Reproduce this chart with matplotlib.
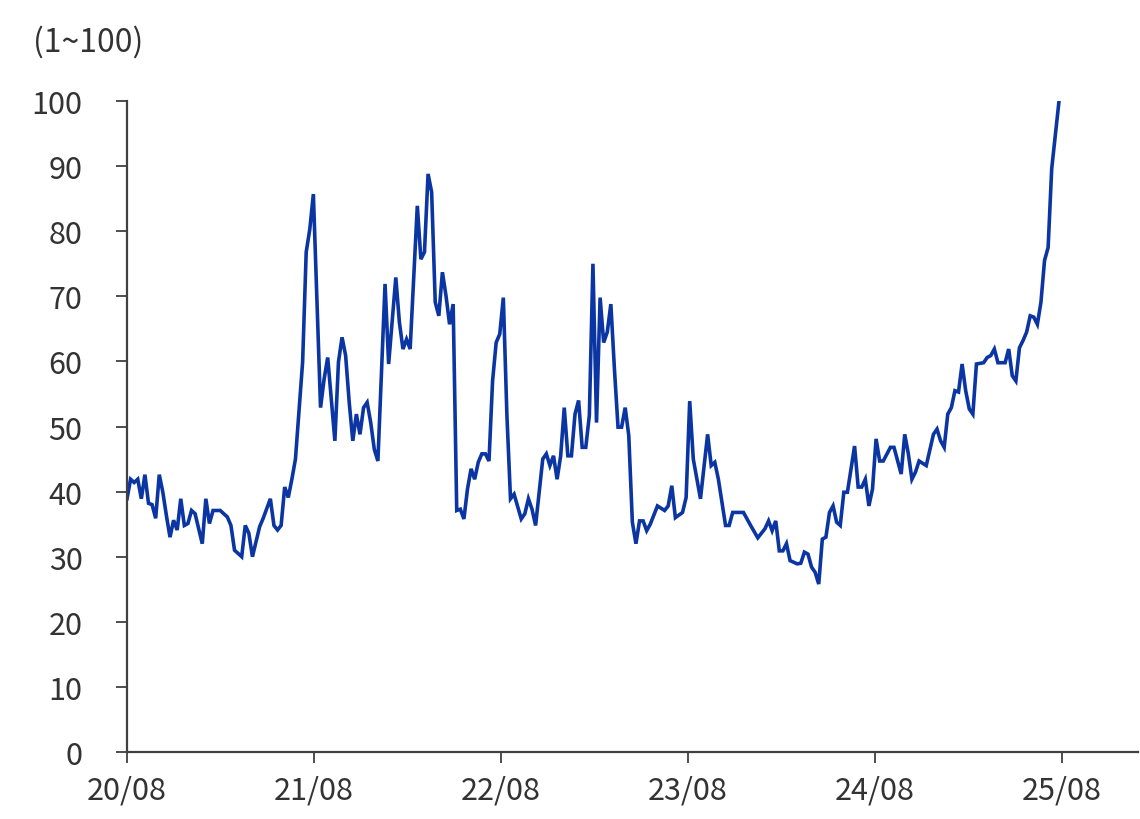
import matplotlib
matplotlib.use("Agg")
import matplotlib.pyplot as plt
import pandas as pd
import numpy as np

plt.rcParams['font.family'] = ['Noto Sans CJK JP', 'DejaVu Sans']

start_date = "2020-08-01"
week_no = [0, 1, 2, 3, 4, 5, 6, 7, 8, 9, 10, 11, 12, 13, 14, 15, 16, 17, 18, 19,
           20, 21, 22, 23, 24, 25, 26, 28, 29, 30, 31, 32, 33, 34, 35, 36, 37, 38, 40, 41,
           42, 43, 44, 45, 46, 47, 49, 50, 51, 52, 54, 55, 56, 58, 59, 60, 61, 62, 63, 64,
           65, 66, 67, 68, 69, 70, 72, 73, 75, 76, 77, 78, 79, 81, 82, 83, 84, 85, 86, 87,
           88, 89, 90, 91, 92, 93, 94, 95, 96, 97, 98, 99, 100, 101, 102, 103, 104, 105, 106, 107,
           108, 110, 111, 112, 113, 114, 116, 117, 118, 119, 120, 121, 122, 123, 124, 125, 126, 127, 128, 129,
           130, 131, 132, 133, 134, 135, 136, 137, 138, 139, 140, 141, 142, 143, 144, 145, 146, 148, 150, 151,
           152, 153, 155, 156, 157, 158, 160, 162, 163, 164, 165, 167, 168, 169, 172, 174, 176, 178, 179, 180,
           181, 182, 183, 184, 185, 187, 188, 189, 190, 191, 192, 193, 194, 195, 196, 197, 198, 199, 200, 201,
           203, 204, 205, 206, 207, 208, 209, 210, 211, 213, 214, 216, 217, 218, 219, 220, 221, 223, 225, 226,
           227, 228, 229, 230, 231, 232, 233, 234, 235, 236, 237, 239, 240, 241, 242, 243, 245, 246, 247, 248,
           249, 250, 251, 252, 253, 254, 255, 256, 257, 258, 259, 260]
index_values = [38.9, 41.9, 41.4, 41.9, 38.9, 42.6, 38.2, 38.0, 35.9, 42.6, 39.9, 36.3, 33.0, 35.6, 34.1, 38.9, 34.8, 35.1, 37.1, 36.6,
                34.3, 32.0, 38.9, 35.1, 37.1, 37.1, 37.1, 36.1, 34.8, 31.0, 30.5, 30.0, 34.8, 33.6, 30.0, 32.3, 34.6, 35.9, 38.9, 34.8,
                34.1, 34.8, 40.7, 39.1, 41.9, 45.0, 59.9, 76.8, 80.3, 85.7, 52.9, 57.3, 60.6, 47.8, 59.9, 63.7, 60.9, 53.7, 47.8, 51.9,
                48.8, 52.9, 53.7, 50.6, 46.5, 44.7, 71.9, 59.6, 72.9, 66.0, 61.9, 63.4, 61.9, 83.9, 75.7, 76.8, 88.8, 86.0, 69.1, 67.0,
                73.7, 70.1, 65.7, 68.8, 37.1, 37.3, 35.8, 40.4, 43.5, 41.9, 44.5, 45.8, 45.8, 44.7, 57.0, 62.9, 64.2, 69.8, 51.7, 38.9,
                39.6, 35.8, 36.6, 38.9, 37.3, 34.8, 45.0, 45.8, 44.0, 45.5, 41.9, 45.5, 52.9, 45.5, 45.5, 51.9, 54.0, 46.8, 46.8, 51.7,
                75.0, 50.6, 69.8, 62.9, 64.5, 68.8, 58.8, 49.9, 49.9, 52.9, 48.6, 35.3, 32.0, 35.5, 35.5, 34.0, 35.0, 37.8, 37.1, 37.8,
                40.9, 36.0, 36.8, 39.1, 53.9, 45.0, 38.9, 48.8, 44.0, 44.5, 41.9, 34.8, 34.8, 36.8, 36.8, 34.8, 32.9, 34.3, 35.5, 34.0,
                35.5, 30.9, 30.9, 32.0, 29.4, 28.9, 29.0, 30.7, 30.4, 28.4, 27.6, 25.8, 32.7, 33.0, 36.8, 37.8, 35.3, 34.8, 39.9, 39.9,
                47.0, 40.7, 40.7, 41.9, 37.8, 40.4, 48.1, 44.7, 44.7, 46.8, 46.8, 42.7, 48.8, 45.8, 41.9, 43.0, 44.7, 44.0, 48.8, 49.6,
                47.8, 46.8, 51.9, 52.9, 55.5, 55.3, 59.6, 55.5, 52.7, 51.9, 59.6, 59.8, 60.6, 60.9, 61.9, 59.8, 59.8, 61.9, 57.8, 57.0,
                62.1, 63.2, 64.5, 67.0, 66.8, 65.7, 69.1, 75.5, 77.5, 89.6, 94.7, 99.8]

x_tick_dates = ["2020-08-01", "2021-08-01", "2022-08-01", "2023-08-01", "2024-08-01", "2025-08-01"]
x_tick_labels = ["20/08", "21/08", "22/08", "23/08", "24/08", "25/08"]
y_ticks = [0, 10, 20, 30, 40, 50, 60, 70, 80, 90, 100]
unit_label = "(1~100)"

dates = pd.Timestamp(start_date) + pd.to_timedelta(np.array(week_no) * 7, unit="D")

fig = plt.figure(figsize=(11.4, 8.2), dpi=100)
ax = fig.add_axes([0.1114, 0.0817, 0.8866, 0.7939])

ax.plot(dates, index_values, color="#0a35a3", linewidth=2.6, solid_joinstyle="miter")

x0 = pd.Timestamp(start_date)
ax.set_xlim(x0, x0 + pd.Timedelta(days=1974))
ax.set_ylim(0, 100)

ax.set_xticks(pd.to_datetime(x_tick_dates))
ax.set_xticklabels(x_tick_labels)
ax.set_yticks(y_ticks)
ax.set_yticklabels([str(v) for v in y_ticks])

for s in ["top", "right"]:
    ax.spines[s].set_visible(False)
for s in ["left", "bottom"]:
    ax.spines[s].set_color("#404040")
    ax.spines[s].set_linewidth(1.6)

ax.tick_params(axis="both", direction="out", length=8, width=1.3, color="#404040",
               labelsize=22, labelcolor="#333333")
ax.tick_params(axis="x", pad=8)
ax.tick_params(axis="y", pad=24)

fig.text(0.029, 0.948, unit_label, fontsize=23, color="#333333", ha="left", va="center")

fig.savefig("out.png", dpi=100, facecolor="white")
